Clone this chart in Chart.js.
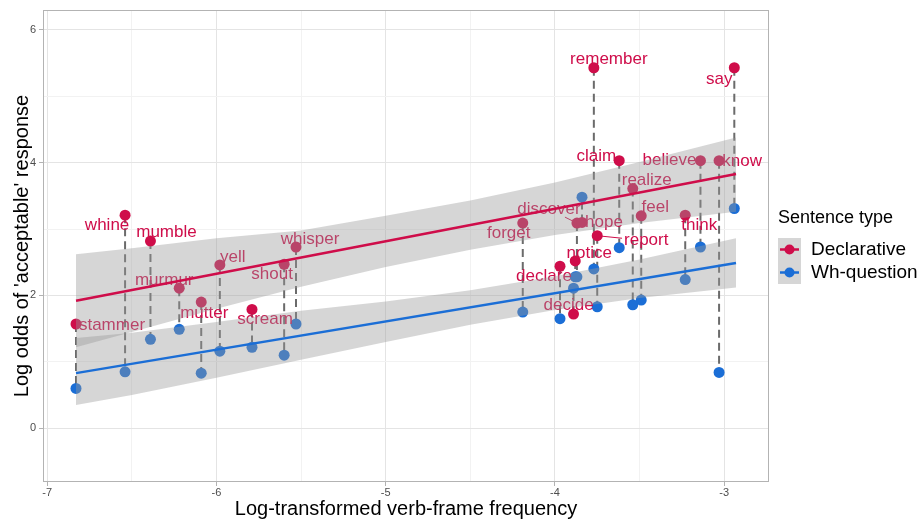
<!DOCTYPE html>
<html>
<head>
<meta charset="utf-8">
<script src="https://cdn.jsdelivr.net/npm/chart.js@4.4.1/dist/chart.umd.min.js"></script>
<style>
  html, body { margin: 0; padding: 0; background: #fff; }
  #wrap { width: 919px; height: 519px; }
</style>
</head>
<body>
<div id="wrap"><canvas id="verbChart" width="919" height="519"></canvas></div>
<script>
// ==================================================
// DATA (verbs sorted by log frequency)
// ==================================================
const verbs = [
  'stammer', 'whine', 'mumble', 'murmur', 'mutter', 'yell', 'scream', 'shout', 'whisper',
  'forget', 'declare', 'decide', 'notice', 'discover', 'hope', 'remember', 'report',
  'claim', 'realize', 'feel', 'think', 'believe', 'know', 'say'
];
const logFreq = [
  -6.83, -6.54, -6.39, -6.22, -6.09, -5.98, -5.79, -5.60, -5.53,
  -4.19, -3.97, -3.89, -3.88, -3.87, -3.84, -3.77, -3.75,
  -3.62, -3.54, -3.49, -3.23, -3.14, -3.03, -2.94
];
const declarative = [
  1.57, 3.21, 2.82, 2.11, 1.90, 2.46, 1.79, 2.47, 2.73,
  3.09, 2.44, 1.72, 2.52, 3.09, 3.10, 5.43, 2.90,
  4.03, 3.61, 3.20, 3.21, 4.03, 4.03, 5.43
];
const whQuestion = [
  0.60, 0.85, 1.34, 1.49, 0.83, 1.16, 1.22, 1.10, 1.57,
  1.75, 1.65, 2.11, 2.28, 2.28, 3.48, 2.40, 1.83,
  2.72, 1.86, 1.93, 2.24, 2.73, 0.84, 3.31
];

const fitX = [-6.83, -2.93];
const declFit = [1.92, 3.83];
const whFit = [0.83, 2.49];
const bandX = [-6.83, -6.5, -6, -5.5, -5, -4.5, -4, -3.5, -2.93];
const declUpper = [2.62, 2.71, 2.86, 2.98, 3.20, 3.43, 3.70, 4.01, 4.38];
const declLower = [1.22, 1.45, 1.80, 2.13, 2.43, 2.69, 2.91, 3.09, 3.26];
const whUpper = [1.36, 1.44, 1.60, 1.77, 1.91, 2.08, 2.29, 2.54, 2.86];
const whLower = [0.35, 0.50, 0.76, 1.03, 1.30, 1.56, 1.78, 1.96, 2.12];

const xMajor = [-7, -6, -5, -4, -3];
const xMinor = [-6.5, -5.5, -4.5, -3.5];
const yMajor = [0, 2, 4, 6];
const yMinor = [1, 3, 5];

const seriesNames = ['Declarative', 'Wh-question'];

// label placement (pixel nudges from the declarative point, like ggrepel)
const labelNudge = {
  stammer: [36, 1], whine: [-18, 10], mumble: [16, -9], murmur: [-15, -8],
  mutter: [3, 11], yell: [13, -8], scream: [13, 10], shout: [-12, 10],
  whisper: [14, -8], forget: [-14, 10], declare: [-16, 10], decide: [-5, -9],
  notice: [14, -8], discover: [-28, -14], hope: [22, 0], remember: [15, -8],
  report: [49, 5], claim: [-23, -4], realize: [14, -8], feel: [14, -8],
  think: [14, 10], believe: [-31, 0], know: [23, 1], say: [-15, 12]
};
const leaderLines = ['discover', 'report'];

const RED = '#CF0D4A';
const BLUE = '#1B6ED6';
const BAND = 'rgba(153,153,153,0.4)';
const FONT = '"Liberation Sans", Arial, Helvetica, sans-serif';

Chart.defaults.font.family = FONT;

const toPts = (xs, ys) => xs.map((x, i) => ({ x: x, y: ys[i] }));

// dashed connectors: declarative -> wh-question, with gaps between verbs
const connectors = [];
logFreq.forEach((x, i) => {
  connectors.push({ x: x, y: declarative[i] }, { x: x, y: whQuestion[i] }, { x: x, y: null });
});

// ==================================================
// PLUGINS
// ==================================================
const verbLabels = {
  id: 'verbLabels',
  afterDatasetDraw(chart, args) {
    if (chart.data.datasets[args.index].id !== 'declPts') return;
    const ctx = chart.ctx;
    ctx.save();
    ctx.font = '17px ' + FONT;
    ctx.fillStyle = RED;
    ctx.strokeStyle = RED;
    ctx.lineWidth = 1;
    ctx.textAlign = 'center';
    ctx.textBaseline = 'middle';
    args.meta.data.forEach((pt, i) => {
      const name = verbs[i];
      const [dx, dy] = labelNudge[name];
      const tx = pt.x + dx, ty = pt.y + dy;
      if (leaderLines.includes(name)) {
        const hw = ctx.measureText(name).width / 2 + 2, hh = 8;
        const sx = Math.abs(dx) > hw ? (Math.abs(dx) - hw) / Math.abs(dx) : 0;
        const sy = Math.abs(dy) > hh ? (Math.abs(dy) - hh) / Math.abs(dy) : 0;
        const s = Math.max(sx, sy);
        ctx.beginPath();
        ctx.moveTo(pt.x, pt.y);
        ctx.lineTo(pt.x + dx * s, pt.y + dy * s);
        ctx.stroke();
      }
      ctx.fillText(name, tx, ty);
    });
    ctx.restore();
  }
};

const panelAndLegend = {
  id: 'panelAndLegend',
  afterDraw(chart) {
    const ctx = chart.ctx;
    const a = chart.chartArea;
    ctx.save();
    // panel border
    ctx.strokeStyle = '#B3B3B3';
    ctx.lineWidth = 1;
    ctx.strokeRect(a.left + 0.5, a.top + 0.5, a.right - a.left - 1, a.bottom - a.top - 1);

    // legend
    const lx = 778, ly = 218;
    ctx.fillStyle = '#000';
    ctx.font = '18px ' + FONT;
    ctx.textAlign = 'left';
    ctx.textBaseline = 'middle';
    ctx.fillText('Sentence type', lx, ly);
    [RED, BLUE].forEach((col, k) => {
      const ky = 238 + k * 23;
      ctx.fillStyle = '#D6D6D6';
      ctx.fillRect(lx, ky, 23, 23);
      ctx.strokeStyle = col;
      ctx.lineWidth = 2.5;
      ctx.beginPath();
      ctx.moveTo(lx + 2, ky + 11.5);
      ctx.lineTo(lx + 21, ky + 11.5);
      ctx.stroke();
      ctx.fillStyle = col;
      ctx.beginPath();
      ctx.arc(lx + 11.5, ky + 11.5, 5, 0, Math.PI * 2);
      ctx.fill();
      ctx.fillStyle = '#000';
      ctx.font = '19px ' + FONT;
      ctx.fillText(seriesNames[k], lx + 33, ky + 11.5);
    });
    ctx.restore();
  }
};

// ==================================================
// CHART
// ==================================================
const isIn = (arr, v) => arr.some(t => Math.abs(t - v) < 1e-9);

new Chart(document.getElementById('verbChart'), {
  type: 'scatter',
  data: {
    datasets: [
      {
        id: 'connectors',
        data: connectors,
        showLine: true,
        spanGaps: false,
        borderColor: '#6B6B6B',
        borderWidth: 2,
        borderDash: [8, 5],
        pointRadius: 0,
        order: 5
      },
      {
        id: 'whPts',
        label: seriesNames[1],
        data: toPts(logFreq, whQuestion),
        backgroundColor: BLUE,
        borderWidth: 0,
        pointRadius: 5.5,
        order: 4
      },
      {
        id: 'declPts',
        label: seriesNames[0],
        data: toPts(logFreq, declarative),
        backgroundColor: RED,
        borderWidth: 0,
        pointRadius: 5.5,
        order: 3
      },
      {
        id: 'declBandUp',
        data: toPts(bandX, declUpper),
        showLine: true,
        borderWidth: 0,
        pointRadius: 0,
        backgroundColor: BAND,
        fill: '+1',
        order: 1
      },
      {
        id: 'declBandLow',
        data: toPts(bandX, declLower),
        showLine: true,
        borderWidth: 0,
        pointRadius: 0,
        order: 1
      },
      {
        id: 'whBandUp',
        data: toPts(bandX, whUpper),
        showLine: true,
        borderWidth: 0,
        pointRadius: 0,
        backgroundColor: BAND,
        fill: '+1',
        order: 1
      },
      {
        id: 'whBandLow',
        data: toPts(bandX, whLower),
        showLine: true,
        borderWidth: 0,
        pointRadius: 0,
        order: 1
      },
      {
        id: 'declFit',
        data: toPts(fitX, declFit),
        showLine: true,
        borderColor: RED,
        borderWidth: 2.5,
        pointRadius: 0,
        order: 0
      },
      {
        id: 'whFit',
        data: toPts(fitX, whFit),
        showLine: true,
        borderColor: BLUE,
        borderWidth: 2.5,
        pointRadius: 0,
        order: 0
      }
    ]
  },
  options: {
    responsive: false,
    animation: false,
    layout: { padding: { top: 10, right: 150, left: 0, bottom: 0 } },
    plugins: {
      legend: { display: false },
      tooltip: { enabled: false }
    },
    scales: {
      x: {
        type: 'linear',
        min: -7.025,
        max: -2.735,
        afterBuildTicks: s => {
          s.ticks = xMajor.concat(xMinor).sort((a, b) => a - b).map(v => ({ value: v }));
        },
        afterFit: s => { s.height = 37; },
        border: { display: false },
        grid: {
          color: c => isIn(xMajor, c.tick.value) ? '#E4E4E4' : '#F2F2F2',
          lineWidth: 1,
          tickLength: 4,
          tickColor: c => isIn(xMajor, c.tick.value) ? '#B3B3B3' : 'rgba(0,0,0,0)'
        },
        ticks: {
          autoSkip: false,
          maxRotation: 0,
          padding: 0,
          color: '#4D4D4D',
          font: { size: 11 },
          callback: v => isIn(xMajor, v) ? String(v) : ''
        },
        title: {
          display: true,
          text: 'Log-transformed verb-frame frequency',
          color: '#000',
          font: { size: 20, lineHeight: 1 },
          padding: { top: 0, bottom: 0 }
        }
      },
      y: {
        type: 'linear',
        min: -0.81,
        max: 6.3,
        afterBuildTicks: s => {
          s.ticks = yMajor.concat(yMinor).sort((a, b) => a - b).map(v => ({ value: v }));
        },
        afterFit: s => { s.width = 43; },
        border: { display: false },
        grid: {
          color: c => isIn(yMajor, c.tick.value) ? '#E4E4E4' : '#F2F2F2',
          lineWidth: 1,
          tickLength: 4,
          tickColor: c => isIn(yMajor, c.tick.value) ? '#B3B3B3' : 'rgba(0,0,0,0)'
        },
        ticks: {
          autoSkip: false,
          padding: 3,
          color: '#4D4D4D',
          font: { size: 11 },
          callback: v => isIn(yMajor, v) ? String(v) : ''
        },
        title: {
          display: true,
          text: "Log odds of 'acceptable' response",
          color: '#000',
          font: { size: 20 },
          padding: { top: 10, bottom: 0 }
        }
      }
    }
  },
  plugins: [verbLabels, panelAndLegend]
});
</script>
</body>
</html>
